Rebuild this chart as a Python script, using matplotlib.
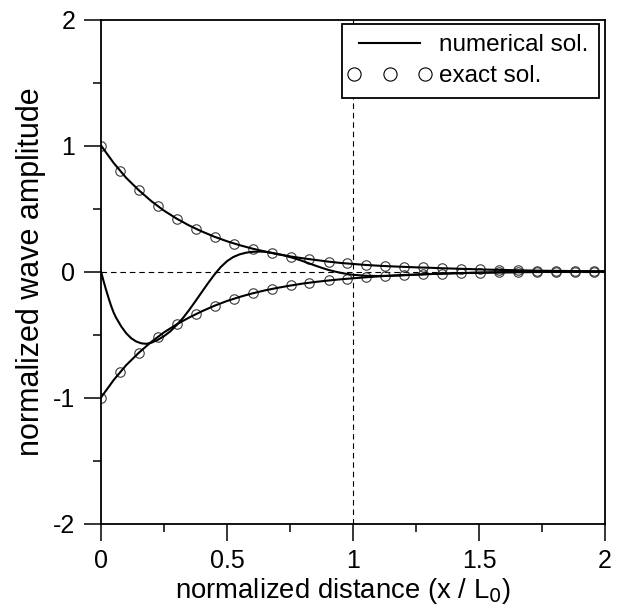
"""Damped wave: numerical vs exact solution."""
import matplotlib
matplotlib.use("Agg")
import matplotlib.pyplot as plt
from matplotlib.lines import Line2D
from matplotlib.legend_handler import HandlerLine2D
from matplotlib.ticker import MultipleLocator

plt.rcParams["font.family"] = ["Liberation Sans", "DejaVu Sans"]
plt.rcParams["axes.unicode_minus"] = False

# exact solution (circles): upper and lower envelopes
x_exact = [0.0, 0.075, 0.15, 0.226, 0.301, 0.376, 0.451, 0.527, 0.602, 0.677,
           0.752, 0.827, 0.903, 0.978, 1.053, 1.128, 1.203, 1.279, 1.354, 1.429,
           1.504, 1.579, 1.655, 1.730, 1.805, 1.880, 1.955]
upper_exact = [1.0, 0.80, 0.645, 0.52, 0.418, 0.341, 0.275, 0.222, 0.182, 0.147,
               0.119, 0.097, 0.078, 0.064, 0.051, 0.043, 0.038, 0.032, 0.026, 0.021,
               0.016, 0.013, 0.009, 0.007, 0.005, 0.004, 0.003]
lower_exact = [-1.0, -0.80, -0.645, -0.52, -0.42, -0.34, -0.27, -0.215, -0.172, -0.14,
               -0.111, -0.088, -0.071, -0.057, -0.045, -0.035, -0.03, -0.022, -0.017, -0.012,
               -0.009, -0.007, -0.005, -0.004, -0.003, -0.002, -0.002]

# numerical solution: envelopes
x_env = [0.0, 0.05, 0.1, 0.15, 0.2, 0.25, 0.3, 0.35, 0.4, 0.45,
         0.5, 0.55, 0.6, 0.65, 0.7, 0.75, 0.8, 0.85, 0.9, 0.95,
         1.0, 1.05, 1.1, 1.15, 1.2, 1.25, 1.3, 1.35, 1.4, 1.45,
         1.5, 1.55, 1.6, 1.65, 1.7, 1.75, 1.8, 1.85, 1.9, 1.95, 2.0]
upper_num = [1.0, 0.862, 0.743, 0.645, 0.558, 0.483, 0.42, 0.365, 0.318, 0.276,
             0.24, 0.209, 0.182, 0.159, 0.139, 0.12, 0.105, 0.092, 0.079, 0.068,
             0.06, 0.052, 0.046, 0.041, 0.037, 0.033, 0.03, 0.026, 0.023, 0.02,
             0.017, 0.014, 0.012, 0.01, 0.008, 0.006, 0.005, 0.004, 0.003, 0.002, 0.002]
lower_num = [-1.0, -0.862, -0.743, -0.645, -0.558, -0.483, -0.42, -0.365, -0.316, -0.272,
             -0.234, -0.202, -0.174, -0.15, -0.13, -0.112, -0.096, -0.083, -0.072, -0.062,
             -0.054, -0.046, -0.039, -0.033, -0.028, -0.024, -0.02, -0.017, -0.014, -0.012,
             -0.01, -0.008, -0.007, -0.006, -0.005, -0.004, -0.003, -0.003, -0.002, -0.002, -0.001]

# numerical solution: the wave itself
x_wave = [0.0, 0.01, 0.02, 0.03, 0.04, 0.05, 0.06, 0.08, 0.1, 0.12,
          0.14, 0.16, 0.18, 0.2, 0.225, 0.25, 0.275, 0.3, 0.325, 0.35,
          0.375, 0.4, 0.425, 0.45, 0.475, 0.5, 0.525, 0.55, 0.575, 0.6,
          0.625, 0.65, 0.675, 0.7, 0.725, 0.75, 0.775, 0.8, 0.825, 0.85,
          0.875, 0.9, 0.925, 0.95, 0.975, 1.0, 1.05, 1.1, 1.15, 1.2,
          1.3, 1.4, 1.5, 1.6, 1.7, 1.8, 1.9, 2.0]
wave_num = [0.0, -0.075, -0.145, -0.21, -0.272, -0.325, -0.367, -0.435, -0.49, -0.53,
            -0.556, -0.57, -0.574, -0.565, -0.543, -0.513, -0.475, -0.425, -0.37, -0.305,
            -0.235, -0.163, -0.092, -0.025, 0.035, 0.082, 0.115, 0.136, 0.149, 0.156,
            0.158, 0.157, 0.148, 0.138, 0.128, 0.115, 0.1, 0.083, 0.065, 0.047,
            0.03, 0.014, 0.001, -0.01, -0.019, -0.026, -0.034, -0.036, -0.034, -0.03,
            -0.021, -0.014, -0.009, -0.005, -0.003, -0.001, 0.0, 0.0]

x_ticks = [0, 0.5, 1, 1.5, 2]
x_ticklabels = ["0", "0.5", "1", "1.5", "2"]
y_ticks = [-2, -1, 0, 1, 2]
y_ticklabels = ["-2", "-1", "0", "1", "2"]

fig = plt.figure(figsize=(6.26, 6.05), dpi=100)
ax = fig.add_axes([101 / 626, 1 - 523.5 / 605, 504 / 626, 504 / 605])

dash = (0, (5, 3.5))
ax.axhline(0, color="black", lw=0.8, ls=dash, zorder=1)
ax.axvline(1, color="black", lw=0.8, ls=dash, zorder=1)

mk = dict(ls="none", marker="o", ms=6.8, mfc="none", mec="#3a3a3a", mew=0.8, zorder=2)
ax.plot(x_exact, upper_exact, **mk)
ax.plot(x_exact, lower_exact, **mk)

ln = dict(color="black", lw=1.5, zorder=3)
ax.plot(x_env, upper_num, **ln)
ax.plot(x_env, lower_num, **ln)
ax.plot(x_wave, wave_num, **ln)

ax.set_xlim(0, 2)
ax.set_ylim(-2, 2)
ax.set_xticks(x_ticks)
ax.set_xticklabels(x_ticklabels)
ax.set_yticks(y_ticks)
ax.set_yticklabels(y_ticklabels)
ax.xaxis.set_minor_locator(MultipleLocator(0.25))
ax.yaxis.set_minor_locator(MultipleLocator(0.5))
ax.tick_params(which="both", direction="out", top=False, right=False, width=1.1,
               labelsize=18, color="black")
ax.tick_params(which="major", length=12.5, pad=6)
ax.tick_params(which="minor", length=6)
for sp in ax.spines.values():
    sp.set_linewidth(1.3)

ax.set_xlabel("normalized distance (x / L$_0$)", fontsize=19.8, labelpad=2)
ax.xaxis.label.set_x(0.48)
ax.set_ylabel("normalized wave amplitude", fontsize=22, labelpad=5)

h_num = Line2D([], [], color="black", lw=1.5)
h_exact = Line2D([], [], ls="none", marker="o", ms=9.5, mfc="none", mec="black", mew=0.8)
leg = ax.legend([h_num, h_exact], ["numerical sol.", "exact sol."], loc="upper right",
                bbox_to_anchor=(1 - 6 / 504, 1 - 4.5 / 504), borderaxespad=0,
                fontsize=17.5, numpoints=3, handlelength=3.1, handletextpad=0.5,
                fancybox=False, framealpha=1, edgecolor="black",
                borderpad=0.42, labelspacing=0.38,
                handler_map={h_exact: HandlerLine2D(marker_pad=0.1)})
leg.get_frame().set_linewidth(1.3)

fig.savefig("out.png", dpi=100)
